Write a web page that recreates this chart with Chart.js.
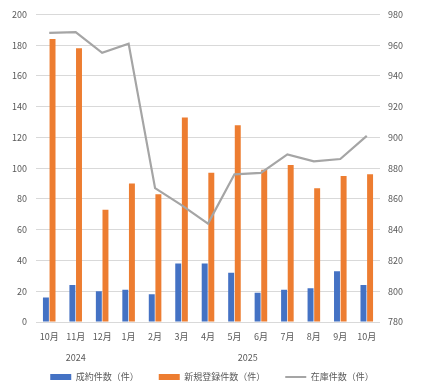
<!DOCTYPE html>
<html>
<head>
<meta charset="utf-8">
<script src="https://cdn.jsdelivr.net/npm/chart.js@4"></script>
<style>
  html, body { margin: 0; padding: 0; background: #fff; }
  #wrap { width: 424px; height: 390px; }
</style>
</head>
<body>
<div id="wrap"><canvas id="myChart" width="424" height="390"></canvas></div>
<script>
const months = ["10月", "11月", "12月", "1月", "2月", "3月", "4月", "5月", "6月", "7月", "8月", "9月", "10月"];
const monthYears = ["2024", "2024", "2024", "2025", "2025", "2025", "2025", "2025", "2025", "2025", "2025", "2025", "2025"];

const seiyaku = [16, 24, 20, 21, 18, 38, 38, 32, 19, 21, 22, 33, 24];
const shinki = [184, 178, 73, 90, 83, 133, 97, 128, 99, 102, 87, 95, 96];
const zaiko = [968, 968.5, 955, 961, 867, 856, 844, 876, 877, 889, 884.5, 886, 901];

const seriesNames = ["成約件数（件）", "新規登録件数（件）", "在庫件数（件）"];

// year groups: centre of each run of months
const years = [];
const yearCenters = [];
monthYears.forEach((y, i) => {
  let k = years.indexOf(y);
  if (k < 0) { years.push(y); yearCenters.push([]); k = years.length - 1; }
  yearCenters[k].push(i);
});
const yearPos = yearCenters.map(a => a.reduce((s, v) => s + v, 0) / a.length);

const txt = "#595959";
const gridCol = "#D9D9D9";
Chart.defaults.font.family = "'Noto Sans CJK JP', 'Noto Sans', sans-serif";
Chart.defaults.font.size = 9;
Chart.defaults.color = txt;

// legend: short box in the layout, then its top pulled up a bit
const legendFit = {
  id: "legendFit",
  beforeLayout(chart) {
    const lg = chart.legend;
    if (lg && !lg._patched) {
      const fit = lg.fit;
      lg.fit = function () { fit.call(this); this.height = 26; };
      lg._patched = true;
    }
  },
  afterLayout(chart) {
    const lg = chart.legend;
    lg.top -= 11.5;
    lg.bottom = chart.height;
  }
};

new Chart("myChart", {
  type: "bar",
  data: {
    labels: months,
    datasets: [
      { label: seriesNames[0], data: seiyaku, backgroundColor: "#4472C4", yAxisID: "y", order: 1,
        categoryPercentage: 0.5, barPercentage: 0.9 },
      { label: seriesNames[1], data: shinki, backgroundColor: "#ED7D31", yAxisID: "y", order: 1,
        categoryPercentage: 0.5, barPercentage: 0.9 },
      { type: "line", label: seriesNames[2], data: zaiko, borderColor: "#A5A5A5", backgroundColor: "#A5A5A5",
        borderWidth: 2.2, pointRadius: 0, tension: 0, yAxisID: "y2", order: 0 }
    ]
  },
  plugins: [legendFit],
  options: {
    responsive: false,
    animation: false,
    layout: { padding: { top: 9, bottom: 0, left: 0, right: 0 } },
    plugins: {
      tooltip: { enabled: false },
      legend: {
        position: "bottom",
        labels: {
          usePointStyle: true,
          pointStyleWidth: 21,
          boxHeight: 6,
          padding: 20,
          color: txt,
          sort: (a, b) => a.datasetIndex - b.datasetIndex,
          generateLabels: function (chart) {
            const items = Chart.defaults.plugins.legend.labels.generateLabels(chart);
            items.forEach(it => {
              if (it.datasetIndex === 2) {
                it.pointStyle = "line";
                it.lineWidth = 2.2;
                it.strokeStyle = "#A5A5A5";
              } else {
                it.pointStyle = "rect";
                it.lineWidth = 0;
              }
            });
            return items;
          }
        }
      }
    },
    scales: {
      x: {
        type: "category",
        offset: true,
        weight: 0,
        grid: { display: false, drawTicks: false },
        border: { display: false },
        ticks: { padding: 9, autoSkip: false, maxRotation: 0, color: txt },
        afterFit: function (scale) { scale.height = 20; }
      },
      x2: {
        type: "linear",
        position: "bottom",
        weight: 1,
        offset: false,
        min: -0.5,
        max: months.length - 0.5,
        grid: { display: false, drawTicks: false, offset: false },
        border: { display: false },
        afterBuildTicks: function (scale) {
          scale.ticks = yearPos.map(v => ({ value: v }));
        },
        ticks: {
          padding: 10.5,
          autoSkip: false,
          maxRotation: 0,
          color: txt,
          callback: function (v) { return years[yearPos.indexOf(v)]; }
        },
        afterFit: function (scale) { scale.height = 22; }
      },
      y: {
        position: "left",
        min: 0, max: 200,
        ticks: { stepSize: 20, padding: 9, color: txt },
        grid: { color: gridCol, drawTicks: false },
        border: { display: false },
        afterFit: function (scale) { scale.width = 36; }
      },
      y2: {
        position: "right",
        min: 780, max: 980,
        ticks: { stepSize: 20, padding: 8, color: txt },
        grid: { display: false, drawTicks: false },
        border: { display: false },
        afterFit: function (scale) { scale.width = 44; }
      }
    }
  }
});
</script>
</body>
</html>
